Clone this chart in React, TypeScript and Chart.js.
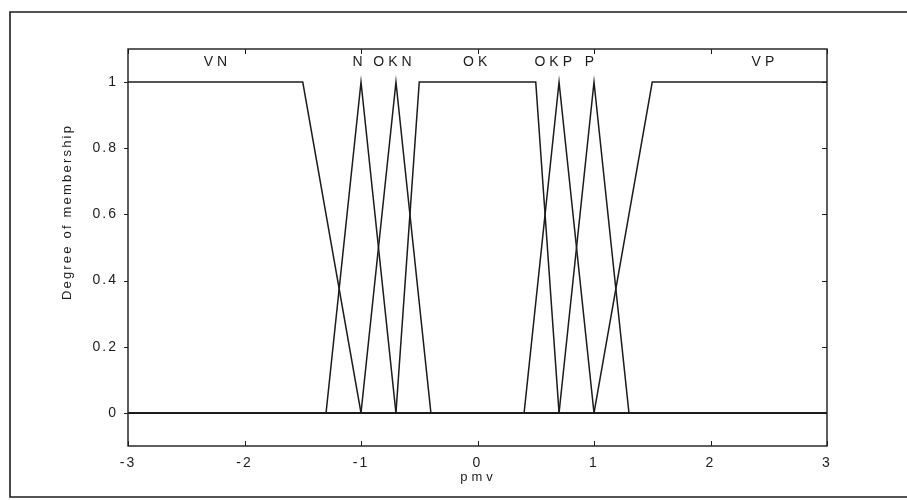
import React, { useEffect, useRef } from "react";
import { Chart, registerables } from "chart.js";

Chart.register(...registerables);

const xTicks = [-3, -2, -1, 0, 1, 2, 3];
const yTicks = [0, 0.2, 0.4, 0.6, 0.8, 1];

const vnX = [-3, -1.5, -1, 3];
const vnY = [1, 1, 0, 0];
const nX = [-3, -1.3, -1, -0.7, 3];
const nY = [0, 0, 1, 0, 0];
const oknX = [-3, -1, -0.7, -0.4, 3];
const oknY = [0, 0, 1, 0, 0];
const okX = [-3, -0.7, -0.5, 0.5, 0.7, 3];
const okY = [0, 0, 1, 1, 0, 0];
const okpX = [-3, 0.4, 0.7, 1.0, 3];
const okpY = [0, 0, 1, 0, 0];
const pX = [-3, 0.7, 1.0, 1.3, 3];
const pY = [0, 0, 1, 0, 0];
const vpX = [-3, 1.0, 1.5, 3];
const vpY = [0, 0, 1, 1];

const setNames = ["VN", "N", "OKN", "OK", "OKP", "P", "VP"];
const setLabelX = [-2.25, -1.03, -0.73, -0.02, 0.65, 0.96, 2.45];
const setLabelY = 1.06;

const xTitle = "pmv";
const yTitle = "Degree of membership";

const INK = "#1c1c1c";
const FONT = "'Liberation Sans', Arial, sans-serif";

function pts(xs: number[], ys: number[]) {
  return xs.map((x, i) => ({ x, y: ys[i] }));
}

const framePlugin = {
  id: "framePlugin",
  beforeDraw(chart: any) {
    const ctx = chart.ctx;
    const w = chart.width;
    const h = chart.height;
    ctx.save();
    ctx.fillStyle = "#ffffff";
    ctx.fillRect(0, 0, w, h);
    ctx.strokeStyle = INK;
    ctx.lineWidth = 1.6;
    ctx.beginPath();
    ctx.moveTo(w + 5, 12);
    ctx.lineTo(10, 12);
    ctx.lineTo(10, 497);
    ctx.lineTo(w + 5, 497);
    ctx.stroke();
    ctx.restore();
    (ctx as any).letterSpacing = "2px";
  },
  afterDraw(chart: any) {
    const ctx = chart.ctx;
    const a = chart.chartArea;
    const xs = chart.scales.x;
    const ys = chart.scales.y;
    ctx.save();
    ctx.strokeStyle = INK;
    ctx.lineWidth = 1.4;
    ctx.strokeRect(a.left, a.top, a.right - a.left, a.bottom - a.top);
    ctx.lineWidth = 1;
    ctx.beginPath();
    xTicks.forEach((v) => {
      const px = Math.round(xs.getPixelForValue(v)) + 0.5;
      ctx.moveTo(px, a.bottom);
      ctx.lineTo(px, a.bottom - 5);
      ctx.moveTo(px, a.top);
      ctx.lineTo(px, a.top + 5);
    });
    yTicks.forEach((v) => {
      const py = Math.round(ys.getPixelForValue(v)) + 0.5;
      ctx.moveTo(a.left, py);
      ctx.lineTo(a.left - 4, py);
      ctx.moveTo(a.right, py);
      ctx.lineTo(a.right - 5, py);
    });
    ctx.stroke();

    ctx.fillStyle = INK;
    ctx.font = "14px " + FONT;
    (ctx as any).letterSpacing = "4px";
    ctx.textAlign = "center";
    ctx.textBaseline = "middle";
    setNames.forEach((name, i) => {
      ctx.fillText(name, xs.getPixelForValue(setLabelX[i]) + 2, ys.getPixelForValue(setLabelY));
    });

    ctx.font = "13px " + FONT;
    (ctx as any).letterSpacing = "4px";
    ctx.fillText(xTitle, (a.left + a.right) / 2 + 1, 477);

    (ctx as any).letterSpacing = "2.2px";
    ctx.translate(67, 212);
    ctx.rotate(-Math.PI / 2);
    ctx.fillText(yTitle, 0, 0);
    ctx.restore();
    (ctx as any).letterSpacing = "2px";
  },
};

export default function App() {
  const ref = useRef<HTMLCanvasElement | null>(null);

  useEffect(() => {
    document.body.style.margin = "0";
    const canvas = ref.current;
    if (!canvas) return;
    const mk = (xs: number[], ys: number[]) => ({
      data: pts(xs, ys),
      showLine: true,
      borderColor: INK,
      borderWidth: 1.5,
      pointRadius: 0,
      fill: false,
      tension: 0,
    });
    const chart = new Chart(canvas, {
      type: "scatter",
      data: {
        datasets: [
          mk(vnX, vnY),
          mk(nX, nY),
          mk(oknX, oknY),
          mk(okX, okY),
          mk(okpX, okpY),
          mk(pX, pY),
          mk(vpX, vpY),
        ],
      },
      options: {
        responsive: false,
        animation: false,
        devicePixelRatio: 1,
        layout: { padding: { top: 49, right: 80, bottom: 0, left: 0 } },
        plugins: {
          legend: { display: false },
          tooltip: { enabled: false },
          title: { display: false },
        },
        scales: {
          x: {
            type: "linear",
            min: -3,
            max: 3,
            afterBuildTicks: (s: any) => {
              s.ticks = xTicks.map((v) => ({ value: v }));
            },
            afterFit: (s: any) => {
              s.height = 54;
            },
            grid: { display: false, drawTicks: false },
            border: { display: false },
            ticks: {
              color: INK,
              font: { family: FONT, size: 14 },
              padding: 9,
              maxRotation: 0,
              autoSkip: false,
              callback: (v: any) => String(v),
            },
          },
          y: {
            type: "linear",
            min: -0.1,
            max: 1.1,
            afterBuildTicks: (s: any) => {
              s.ticks = yTicks.map((v) => ({ value: v }));
            },
            afterFit: (s: any) => {
              s.width = 128;
            },
            grid: { display: false, drawTicks: false },
            border: { display: false },
            ticks: {
              color: INK,
              font: { family: FONT, size: 14 },
              padding: 10,
              autoSkip: false,
              callback: (v: any) => String(Math.round(Number(v) * 10) / 10),
            },
          },
        },
      },
      plugins: [framePlugin],
    });
    return () => chart.destroy();
  }, []);

  return <canvas ref={ref} width={907} height={500} style={{ display: "block" }} />;
}
